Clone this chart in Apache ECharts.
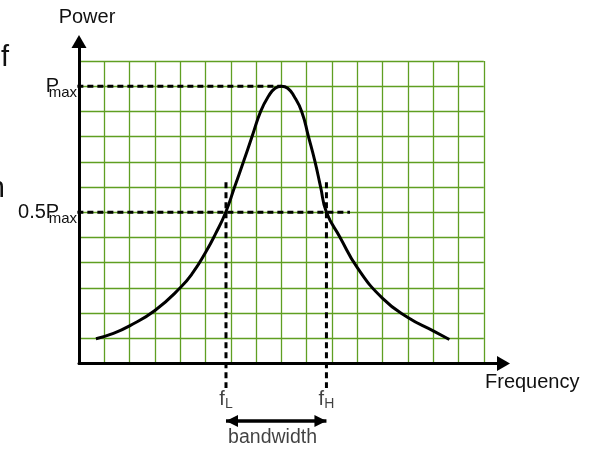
<!DOCTYPE html>
<html>
<head>
<meta charset="utf-8" />
<title>Bandwidth</title>
<style type="text/css">
	html, body {margin:0;padding:0;background:#fff;}
	#chart {width:598px;height:450px;}
</style>
</head>
<body>
<div id="chart"></div>
<script src="https://cdn.jsdelivr.net/npm/echarts@6/dist/echarts.min.js"></script>
<script type="text/javascript">
// response curve (grid units)
const curveX = [0.67, 1.36, 2, 3, 4, 4.5, 5, 5.4, 5.8, 6.15, 6.5, 6.84, 7.18, 7.5, 7.75, 8,
	8.25, 8.5, 8.8, 9.07, 9.33, 9.55, 9.78, 10.32, 11, 12, 13, 14, 14.64];
const curveY = [0.98, 1.19, 1.49, 2.1, 3.0, 3.6, 4.4, 5.15, 6.0, 7.0, 8.0, 9.0, 10.0, 10.62, 10.92, 11,
	10.92, 10.6, 10.0, 9.0, 8.0, 7.0, 6.0, 5.0, 3.8, 2.58, 1.82, 1.29, 0.95];

// power levels and their tick labels
const levelValues = [11, 6];
const levelLabels = ['P', '0.5P'];
const peakX = 8;

// band edges
const edgeX = [5.81, 9.78];
const edgeNames = ['L', 'H'];

// grid size (cells)
const gridCols = 16;
const gridRows = 12;

// extents of the guide lines
const guideLeft = -0.46;
const halfLineEnd = 10.71;
const edgeTop = 7.19;
const edgeBottom = -0.98;
const edgeLabelY = -1.475;
const bandY = -2.29;
const bandLabel = ['bandwidth', 7.65, -2.93];

const FONT = "'Liberation Sans', Arial, sans-serif";
const GREEN = '#5f9f22';
const dash = {color: '#000', width: 3, type: [6, 4]};

const chart = echarts.init(document.getElementById('chart'), null, {renderer: 'canvas'});

const curve = curveX.map((x, i) => [x, curveY[i]]);
const guides = [
	[[guideLeft, levelValues[0]], [peakX, levelValues[0]]],
	[[guideLeft, levelValues[1]], [halfLineEnd, levelValues[1]]],
	[[edgeX[0], edgeTop], [edgeX[0], edgeBottom]],
	[[edgeX[1], edgeTop], [edgeX[1], edgeBottom]]
];

const option = {
	animation: false,
	textStyle: {fontFamily: FONT, color: '#000'},
	grid: [
		{left: 79, top: 61, width: 404.8, height: 302.4},
		{left: 79, top: 41.5, right: 94.5, bottom: 86.6}
	],
	xAxis: [{
		gridIndex: 0, type: 'value', min: 0, max: gridCols, interval: 1,
		axisLine: {show: false}, axisTick: {show: false}, axisLabel: {show: false},
		splitLine: {show: true, lineStyle: {color: GREEN, width: 1.3}}
	}, {
		gridIndex: 1, type: 'value', min: 0, max: 1,
		name: 'Frequency', nameLocation: 'end', nameGap: -18.5,
		nameTextStyle: {fontSize: 20, fontFamily: FONT, color: '#111', align: 'left', verticalAlign: 'top', padding: [9, 0, 0, 0]},
		axisLine: {show: true, symbol: ['none', 'triangle'], symbolSize: [15, 13], lineStyle: {color: '#000', width: 3}},
		axisTick: {show: false}, axisLabel: {show: false}, splitLine: {show: false}
	}],
	yAxis: [{
		gridIndex: 0, type: 'value', min: 0, max: gridRows, interval: 1,
		axisLine: {show: false}, axisTick: {show: false},
		axisLabel: {
			show: true, margin: 2, padding: [4, 0, 0, 0],
			formatter: v => {
				const k = levelValues.indexOf(v);
				return k < 0 ? '' : '{a|' + levelLabels[k] + '}{b|max}';
			},
			rich: {
				a: {fontSize: 20, lineHeight: 24, verticalAlign: 'top', fontFamily: FONT, color: '#111'},
				b: {fontSize: 15, lineHeight: 8, verticalAlign: 'bottom', fontFamily: FONT, color: '#111', padding: [0, 0, 0, -10.5]}
			}
		},
		splitLine: {show: true, lineStyle: {color: GREEN, width: 1.3}}
	}, {
		gridIndex: 1, type: 'value', min: 0, max: 1,
		name: 'Power', nameLocation: 'end', nameGap: 14,
		nameTextStyle: {fontSize: 20, fontFamily: FONT, color: '#111', align: 'center', verticalAlign: 'bottom', padding: [0, 0, 0, 16]},
		axisLine: {show: true, symbol: ['none', 'triangle'], symbolSize: [15, 13], lineStyle: {color: '#000', width: 3}},
		axisTick: {show: false}, axisLabel: {show: false}, splitLine: {show: false}
	}],
	graphic: [
		{type: 'text', left: 1, top: 43.5, style: {text: 'f', font: '29px ' + FONT, fill: '#111'}},
		{type: 'text', left: -11.2, top: 174.5, style: {text: 'n', font: '29px ' + FONT, fill: '#111'}}
	],
	series: [].concat(
		guides.map(g => ({
			type: 'line', xAxisIndex: 0, yAxisIndex: 0, clip: false,
			symbol: 'none', data: g, lineStyle: dash, z: 3
		})),
		[{
			name: 'curve', type: 'line', xAxisIndex: 0, yAxisIndex: 0,
			smooth: 0.5, symbol: 'none', data: curve,
			lineStyle: {color: '#000', width: 3}, z: 4
		}, {
			name: 'band', type: 'line', xAxisIndex: 0, yAxisIndex: 0, clip: false,
			symbol: 'triangle', symbolSize: [12, 12],
			data: [
				{value: [edgeX[0], bandY], symbolRotate: 90, symbolOffset: [6, 0]},
				{value: [edgeX[1], bandY], symbolRotate: -90, symbolOffset: [-6, 0]}
			],
			itemStyle: {color: '#000'},
			lineStyle: {color: '#000', width: 3.5}, z: 4
		}, {
			name: 'edges', type: 'scatter', xAxisIndex: 0, yAxisIndex: 0, clip: false,
			symbolSize: 0,
			data: edgeX.map(x => [x, edgeLabelY]),
			label: {
				show: true, position: 'inside', align: 'center', verticalAlign: 'middle',
				formatter: p => '{a|f}{b|' + edgeNames[p.dataIndex] + '}',
				rich: {
					a: {fontSize: 20, lineHeight: 22, verticalAlign: 'top', fontFamily: FONT, color: '#111'},
					b: {fontSize: 14, lineHeight: 4, verticalAlign: 'bottom', fontFamily: FONT, color: '#111'}
				}
			}
		}, {
			name: 'bandLabel', type: 'scatter', xAxisIndex: 0, yAxisIndex: 0, clip: false,
			symbolSize: 0,
			data: [[bandLabel[1], bandLabel[2]]],
			label: {
				show: true, position: 'inside', formatter: bandLabel[0],
				fontSize: 19.5, fontFamily: FONT, color: '#111'
			}
		}]
	)
};

chart.setOption(option);
</script>
</body>
</html>
